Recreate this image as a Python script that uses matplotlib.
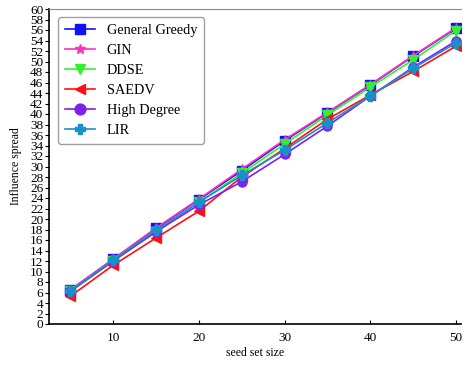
import matplotlib
matplotlib.use("Agg")
import matplotlib.pyplot as plt

plt.rcParams["font.family"] = ["Liberation Serif", "DejaVu Serif"]

seed_sizes = [5, 10, 15, 20, 25, 30, 35, 40, 45, 50]

general_greedy = [6.5, 12.3, 18.2, 23.7, 29.2, 34.9, 40.2, 45.5, 51.0, 56.3]
gin = [6.5, 12.4, 18.3, 23.8, 29.5, 35.1, 40.3, 45.6, 51.1, 56.4]
ddse = [6.3, 12.0, 17.5, 23.2, 28.7, 34.3, 39.8, 45.1, 50.3, 55.9]
saedv = [5.3, 11.2, 16.4, 21.5, 28.0, 33.4, 39.0, 43.6, 48.1, 52.9]
high_degree = [6.2, 12.0, 17.6, 22.7, 27.1, 32.3, 37.7, 43.4, 48.9, 53.9]
lir = [6.3, 12.2, 17.9, 23.2, 28.3, 33.1, 38.3, 43.4, 48.7, 53.5]

series = [
    ("General Greedy", general_greedy, "#1010ff", "s"),
    ("GIN", gin, "#ff30c0", "*"),
    ("DDSE", ddse, "#30f030", "v"),
    ("SAEDV", saedv, "#ff1010", "<"),
    ("High Degree", high_degree, "#8020f0", "o"),
    ("LIR", lir, "#1a90c8", "P"),
]

fig = plt.figure(figsize=(4.63, 3.66), dpi=100)
ax = fig.add_axes([49 / 463, 42 / 366, 412 / 463, 315 / 366])

for name, values, color, marker in series:
    ax.plot(seed_sizes, values, color=color, marker=marker, markersize=6.5,
            linewidth=1.2, label=name)

ax.set_xlim(2.5, 50.6)
ax.set_ylim(0, 60)
ax.set_xticks([10, 20, 30, 40, 50])
ax.set_yticks(range(0, 61, 2))
ax.tick_params(axis="x", direction="in", length=3, labelsize=9.5, pad=6)
ax.tick_params(axis="y", direction="out", length=3, labelsize=9.5, pad=1)
ax.spines["right"].set_visible(False)
ax.spines["top"].set_color("#888888")
ax.spines["left"].set_linewidth(1.2)
ax.spines["bottom"].set_linewidth(1.2)

ax.set_xlabel("seed set size", fontsize=8.5, labelpad=2)
ax.set_ylabel("Influence spread", fontsize=8.5, labelpad=6)

leg = ax.legend(loc="upper left", fontsize=10.3, frameon=True, fancybox=True,
                edgecolor="#888888", markerscale=1.2, handlelength=2.1,
                handletextpad=0.8, borderpad=0.5, labelspacing=0.48,
                borderaxespad=0, bbox_to_anchor=(9 / 412, 1 - 8 / 315))
leg.get_frame().set_linewidth(1.0)

fig.savefig("out.png", dpi=100)
